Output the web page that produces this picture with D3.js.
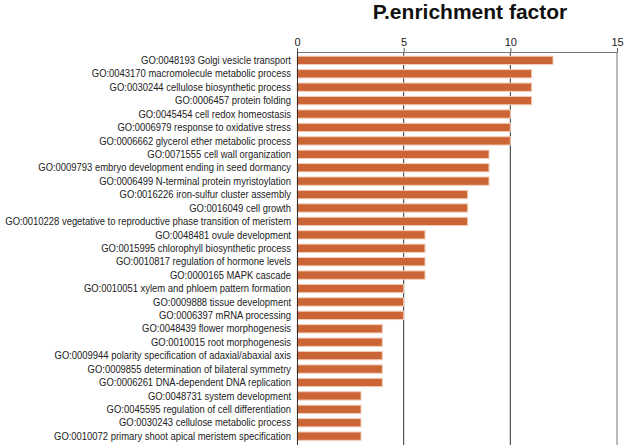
<!DOCTYPE html>
<html><head><meta charset="utf-8">
<script src="https://cdn.jsdelivr.net/npm/d3@7"></script>
<style>body{margin:0;background:#fff}</style>
</head><body>
<svg id="c" width="625" height="447"></svg>
<script>
const categories = [
"GO:0048193 Golgi vesicle transport",
"GO:0043170 macromolecule metabolic process",
"GO:0030244 cellulose biosynthetic process",
"GO:0006457 protein folding",
"GO:0045454 cell redox homeostasis",
"GO:0006979 response to oxidative stress",
"GO:0006662 glycerol ether metabolic process",
"GO:0071555 cell wall organization",
"GO:0009793 embryo development ending in seed dormancy",
"GO:0006499 N-terminal protein myristoylation",
"GO:0016226 iron-sulfur cluster assembly",
"GO:0016049 cell growth",
"GO:0010228 vegetative to reproductive phase transition of meristem",
"GO:0048481 ovule development",
"GO:0015995 chlorophyll biosynthetic process",
"GO:0010817 regulation of hormone levels",
"GO:0000165 MAPK cascade",
"GO:0010051 xylem and phloem pattern formation",
"GO:0009888 tissue development",
"GO:0006397 mRNA processing",
"GO:0048439 flower morphogenesis",
"GO:0010015 root morphogenesis",
"GO:0009944 polarity specification of adaxial/abaxial axis",
"GO:0009855 determination of bilateral symmetry",
"GO:0006261 DNA-dependent DNA replication",
"GO:0048731 system development",
"GO:0045595 regulation of cell differentiation",
"GO:0030243 cellulose metabolic process",
"GO:0010072 primary shoot apical meristem specification"
];
const values = [12,11,11,11,10,10,10,9,9,9,8,8,8,6,6,6,6,5,5,5,4,4,4,4,4,3,3,3,3];
const xTicks = [0,5,10,15];
const title = "P.enrichment factor";

const svg = d3.select("#c");
const mLeft = 297, mRight = 617, mTop = 52, mBottom = 443;
const x = d3.scaleLinear().domain([0,15]).range([mLeft,mRight]);
const y = d3.scaleBand().domain(categories).range([mTop+1.5, mBottom]).paddingInner(0.38).paddingOuter(0.2);

svg.append("text").attr("x",470).attr("y",19).attr("text-anchor","middle")
  .attr("font-family","Liberation Sans, Arial, sans-serif").attr("font-weight","bold")
  .attr("font-size",21).attr("fill","#111").text(title);

// gridlines
svg.append("g").selectAll("line").data(xTicks.slice(1)).join("line")
  .attr("x1",d=>x(d)).attr("x2",d=>x(d)).attr("y1",mTop).attr("y2",mBottom+2)
  .attr("stroke",d=>d===15?"#777":"#333").attr("stroke-width",1);

// bars
svg.append("g").selectAll("rect").data(values).join("rect")
  .attr("x",x(0)).attr("y",(d,i)=>y(categories[i]))
  .attr("width",d=>x(d)-x(0)).attr("height",y.bandwidth())
  .attr("fill","#cc6535").attr("stroke","#f3cdb8").attr("stroke-width",1);

// top axis
const ax = svg.append("g").attr("transform",`translate(0,${mTop})`)
  .call(d3.axisTop(x).tickValues(xTicks).tickSize(4).tickPadding(2));
ax.select(".domain").attr("stroke","#777");
ax.selectAll(".tick line").attr("stroke","#555");
ax.selectAll("text").attr("font-family","Liberation Sans Narrow, Liberation Sans, Arial, sans-serif")
  .attr("font-size",11).attr("fill","#222");

// left axis line
svg.append("line").attr("x1",mLeft+0.5).attr("x2",mLeft+0.5).attr("y1",mTop).attr("y2",mBottom+2)
  .attr("stroke","#333");

// labels (slightly condensed like the reference)
svg.append("g").attr("transform","translate(291,0) scale(0.9,1)")
  .selectAll("text").data(categories).join("text")
  .attr("x",0).attr("y",d=>y(d)+y.bandwidth()/2).attr("dy","0.35em")
  .attr("text-anchor","end").attr("font-family","Liberation Sans, Arial, sans-serif")
  .attr("font-size",10.5).attr("fill","#222").text(d=>d);
</script>
</body></html>
